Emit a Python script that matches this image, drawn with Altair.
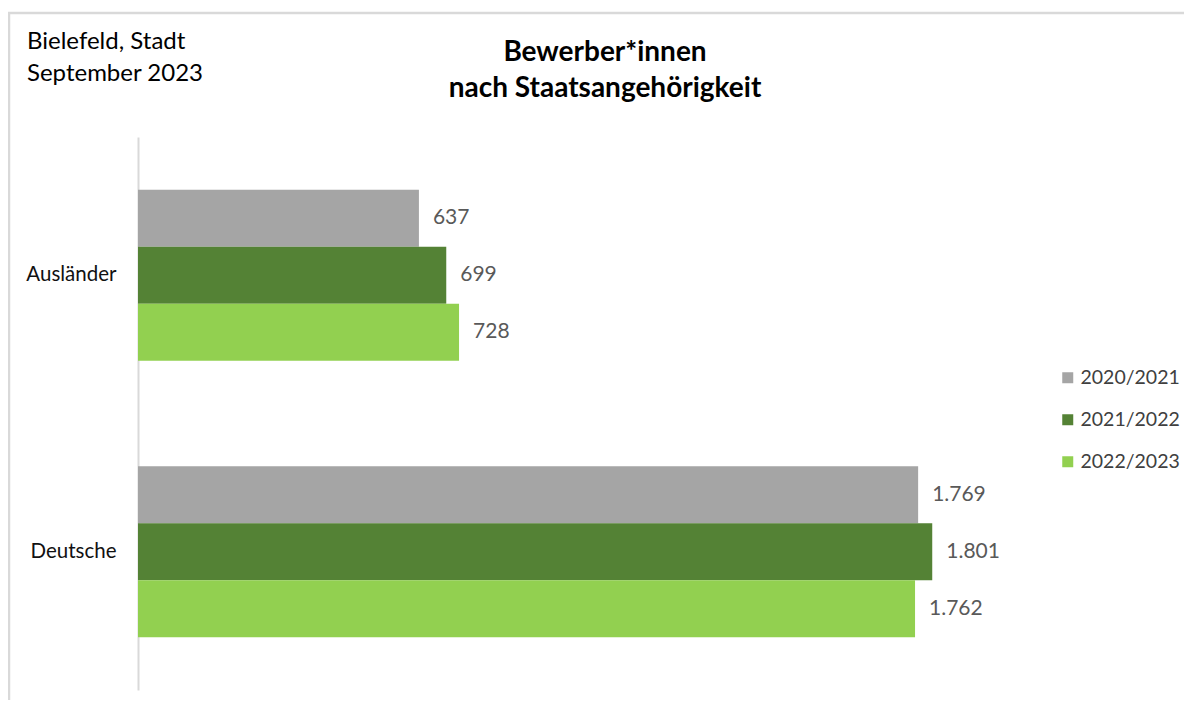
import altair as alt
import pandas as pd

categories = ["Ausländer", "Deutsche"]
years = ["2020/2021", "2021/2022", "2022/2023"]
values_2020_2021 = [637, 1769]
values_2021_2022 = [699, 1801]
values_2022_2023 = [728, 1762]
colors = ["#a5a5a5", "#548235", "#92d050"]

series = {"2020/2021": values_2020_2021, "2021/2022": values_2021_2022, "2022/2023": values_2022_2023}
rows = []
for y in years:
    for c, v in zip(categories, series[y]):
        rows.append({"cat": c, "year": y, "value": v, "label": f"{v:,}".replace(",", ".")})
df = pd.DataFrame(rows)

FONT = "Lato"

base = alt.Chart(df)
y_enc = alt.Y("cat:N", sort=categories, title=None,
              scale=alt.Scale(paddingInner=0.382, paddingOuter=0.191),
              axis=alt.Axis(ticks=False, domainColor="#d9d9d9", domainWidth=2,
                            labelFontSize=20.5, labelColor="#111111", labelPadding=22,
                            labelFont=FONT))
yoff = alt.YOffset("year:N", sort=years, scale=alt.Scale(paddingInner=0, paddingOuter=0))
x_enc = alt.X("value:Q", axis=None, scale=alt.Scale(domain=[0, 2000], nice=False))

bars = base.mark_bar().encode(
    x=x_enc, y=y_enc, yOffset=yoff,
    color=alt.Color("year:N", sort=years,
                    scale=alt.Scale(domain=years, range=colors),
                    legend=alt.Legend(orient="none", legendX=920, legendY=231, title=None,
                                      symbolType="square", symbolSize=121, symbolStrokeWidth=0,
                                      labelFontSize=19.5, labelColor="#404040", rowPadding=21,
                                      labelOffset=3, padding=0, labelFont=FONT)),
)

labels = base.mark_text(align="left", baseline="middle", dx=14, fontSize=21,
                        color="#595959", font=FONT).encode(
    x=x_enc, y=alt.Y("cat:N", sort=categories), yOffset=yoff, text="label:N"
)

one = alt.Chart(pd.DataFrame({"a": [0]}))
title = one.mark_text(text=["Bewerber*innen", "nach Staatsangehörigkeit"], align="center",
                      baseline="alphabetic", fontSize=28, fontWeight="bold", lineHeight=36,
                      font=FONT, color="#000000").encode(x=alt.value(467), y=alt.value(-76))
place = one.mark_text(text=["Bielefeld, Stadt", "September 2023"], align="left",
                      baseline="alphabetic", fontSize=24, lineHeight=31.5,
                      font=FONT, color="#000000").encode(x=alt.value(-111), y=alt.value(-88))
border_top = one.mark_rule(color="#d9d9d9", strokeWidth=2.5).encode(
    x=alt.value(-130), x2=alt.value(1060), y=alt.value(-124))
border_left = one.mark_rule(color="#d9d9d9", strokeWidth=2.5).encode(
    x=alt.value(-129), y=alt.value(-125), y2=alt.value(580))

chart = alt.layer(border_top, border_left, bars, labels, title, place).properties(
    width=882, height=553,
    autosize=alt.AutoSizeParams(type="none"),
    padding={"left": 130, "top": 129, "right": 164, "bottom": 10},
).configure(font=FONT, view=alt.ViewConfig(stroke=None, strokeWidth=0))

chart.save("out.html", embed_options={"renderer": "svg", "actions": False})
